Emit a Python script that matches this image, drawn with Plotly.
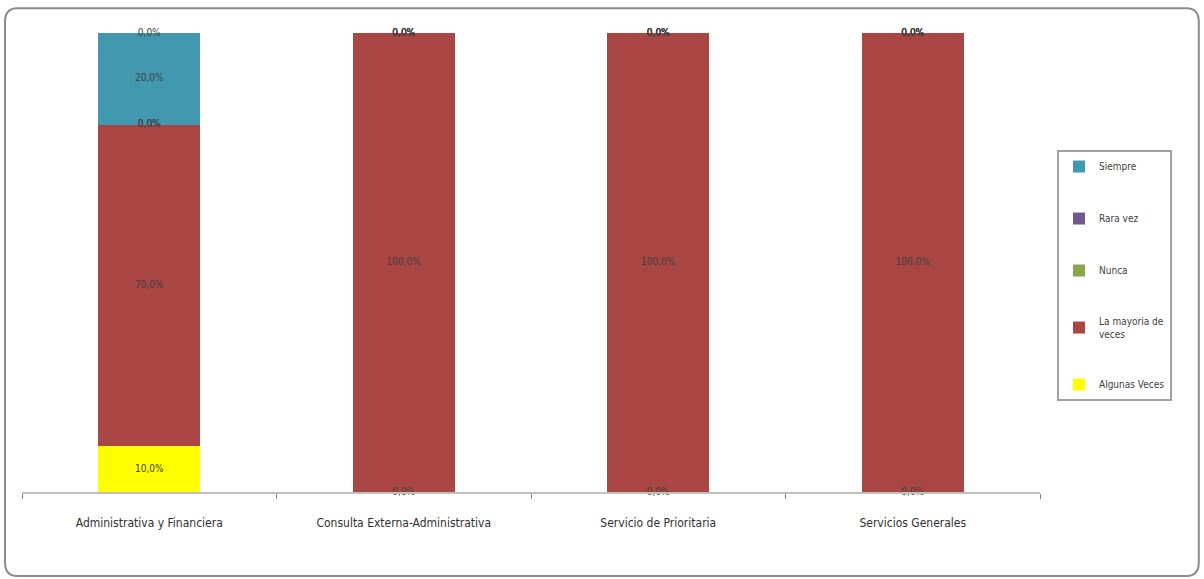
import plotly.graph_objects as go
import numpy as np

categories = ["Administrativa y Financiera", "Consulta Externa-Administrativa",
              "Servicio de Prioritaria", "Servicios Generales"]
# stacked from bottom to top
series_names = ["Algunas Veces", "La mayoria de<br>veces", "Nunca", "Rara vez", "Siempre", ""]
algunas = [10.0, 0.0, 0.0, 0.0]
mayoria = [70.0, 100.0, 100.0, 100.0]
nunca = [0.0, 0.0, 0.0, 0.0]
rara = [0.0, 0.0, 0.0, 0.0]
siempre = [20.0, 0.0, 0.0, 0.0]
extra = [0.0, 0.0, 0.0, 0.0]
colors = ["#FFFF00", "#AA4643", "#89A54E", "#71588F", "#4198AF", "#FFFFFF"]

values = [algunas, mayoria, nunca, rara, siempre, extra]

fig = go.Figure()
for i, (name, vals, col) in enumerate(zip(series_names, values, colors)):
    fig.add_trace(go.Bar(x=categories, y=vals, name=name, marker_color=col,
                         marker_line_width=0, showlegend=(name != ""),
                         legendgroup=str(i), legendrank=100 - i))

cum = np.zeros(len(categories))
lx, ly, lt = [], [], []
for vals in values:
    v = np.array(vals)
    mid = cum + v / 2
    for c, m, val in zip(categories, mid, v):
        lx.append(c); ly.append(m); lt.append(f"{val:.1f}%".replace(".", ","))
    cum = cum + v
fig.add_trace(go.Scatter(x=lx, y=ly, text=lt, mode="text", showlegend=False,
                         cliponaxis=False,
                         textfont=dict(size=10, color="#404040", family="DejaVu Sans Condensed"),
                         hoverinfo="skip"))

# rounded outer border (paper coords)
x0, x1 = -0.0167, 1.156
y0, y1 = -0.183, 1.054
rx, ry = 0.012, 0.03
path = (f"M {x0+rx},{y1} L {x1-rx},{y1} Q {x1},{y1} {x1},{y1-ry} "
        f"L {x1},{y0+ry} Q {x1},{y0} {x1-rx},{y0} L {x0+rx},{y0} "
        f"Q {x0},{y0} {x0},{y0+ry} L {x0},{y1-ry} Q {x0},{y1} {x0+rx},{y1} Z")
fig.add_shape(type="path", path=path, xref="paper", yref="paper",
              line=dict(color="#8C8C8C", width=2), layer="below")

fig.update_layout(
    barmode="stack", bargap=0.6,
    width=1204, height=579,
    margin=dict(l=22, r=164, t=33, b=87),
    plot_bgcolor="white", paper_bgcolor="white",
    font=dict(family="DejaVu Sans Condensed", size=12, color="#404040"),
    xaxis=dict(showline=True, linecolor="#BFBFBF", linewidth=2,
               ticks="outside", tickson="boundaries", ticklen=5, tickcolor="#808080",
               ticklabelstandoff=19,
               tickfont=dict(size=12, color="#303030"), showgrid=False),
    yaxis=dict(range=[0, 100], visible=False, showgrid=False),
    legend=dict(x=1.0167, y=0.745, xanchor="left", yanchor="top",
                traceorder="grouped", bordercolor="#A0A0A0", borderwidth=2,
                font=dict(size=10, color="#404040"), tracegroupgap=33,
                itemwidth=30),
)

fig.write_html("out.html", post_script="document.body.style.margin='0';",
               config={"displayModeBar": False})
